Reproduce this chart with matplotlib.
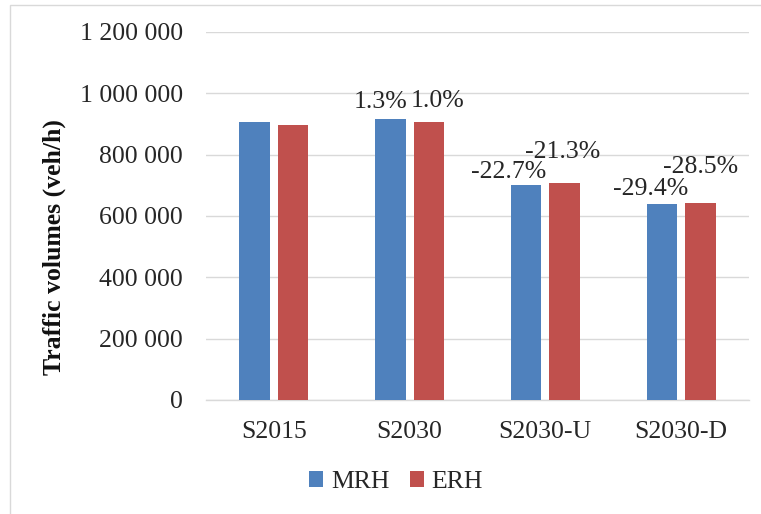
import matplotlib
matplotlib.use("Agg")
import matplotlib.pyplot as plt
from matplotlib.patches import Rectangle
from matplotlib.ticker import FuncFormatter
import numpy as np

categories = ["S2015", "S2030", "S2030-U", "S2030-D"]
mrh = [905000, 917000, 700000, 640000]
erh = [897000, 906000, 706000, 642000]
mrh_pct = ["", "1.3%", "-22.7%", "-29.4%"]
erh_pct = ["", "1.0%", "-21.3%", "-28.5%"]
series_names = ["MRH", "ERH"]
y_label = "Traffic volumes (veh/h)"

BLUE = "#4F81BD"
RED = "#C0504D"
GRID = "#D9D9D9"
TXT = "#262626"
FONT = "Liberation Serif"
FS = 18.5

plt.rcParams["font.family"] = [FONT, "DejaVu Serif"]

W, H = 761, 514
fig = plt.figure(figsize=(W / 100, H / 100), dpi=100)
ax = fig.add_axes([206 / W, 1 - 400 / H, (749 - 206) / W, (400 - 32) / H])

x = np.arange(len(categories))
off = 0.142
bw = 0.225
b1 = ax.bar(x - off, mrh, bw, color=BLUE, label=series_names[0], zorder=3)
b2 = ax.bar(x + off, erh, bw, color=RED, label=series_names[1], zorder=3)

ax.set_xlim(-0.5, len(categories) - 0.5)
ax.set_ylim(0, 1200000)
ax.set_yticks(np.arange(0, 1200001, 200000))
ax.yaxis.set_major_formatter(FuncFormatter(lambda v, p: f"{int(v):,}".replace(",", " ")))
ax.set_xticks(x)
ax.set_xticklabels(categories)
ax.grid(axis="y", color=GRID, lw=1.0, zorder=0)
for s in ["left", "right", "top"]:
    ax.spines[s].set_visible(False)
ax.spines["bottom"].set_color(GRID)
ax.spines["bottom"].set_linewidth(1.0)
ax.tick_params(axis="y", length=0, pad=16.5, labelsize=FS, labelcolor=TXT)
ax.tick_params(axis="x", length=0, pad=15, labelsize=FS, labelcolor=TXT)

# percent annotations: offsets in pixels (dx, dy) relative to bar top centre
mrh_off = [(0, 0), (-10, 11), (-17, 7), (-11, 9)]
erh_off = [(0, 0), (9, 15), (-2, 25), (0, 30)]
for i in range(len(categories)):
    if mrh_pct[i]:
        ax.annotate(mrh_pct[i], xy=(x[i] - off, mrh[i]), xytext=mrh_off[i],
                    textcoords="offset pixels", ha="center", va="baseline",
                    fontsize=FS, color=TXT, zorder=5)
    if erh_pct[i]:
        ax.annotate(erh_pct[i], xy=(x[i] + off, erh[i]), xytext=erh_off[i],
                    textcoords="offset pixels", ha="center", va="baseline",
                    fontsize=FS, color=TXT, zorder=5)

fig.text(54 / W, 1 - 247 / H, y_label, rotation=90, ha="center", va="center",
         fontsize=FS, fontweight="bold", color="#111111")

leg = fig.legend(handles=[b1, b2], labels=series_names, loc="center",
                 bbox_to_anchor=(396 / W, 1 - 482 / H), ncol=2, frameon=False,
                 fontsize=FS, handlelength=0.55, handleheight=0.55,
                 handletextpad=0.3, columnspacing=0.8, borderpad=0)
for t in leg.get_texts():
    t.set_color(TXT)

fig.add_artist(Rectangle((10 / W, -0.1), 1.2, 1.1 - 5 / H, transform=fig.transFigure,
                         fill=False, edgecolor=GRID, lw=1.0))

fig.savefig("out.png", dpi=100)
